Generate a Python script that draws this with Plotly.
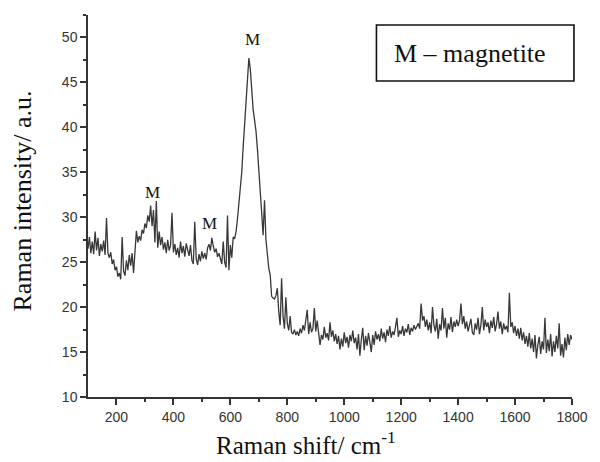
import plotly.graph_objects as go

# Raman shift (cm-1), 5 cm-1 steps from 100 to 1800
shift = list(range(100, 1801, 5))

intensity = [
    # 100-195
    26.5, 27.8, 26.0, 27.3, 25.9, 28.4, 26.3, 27.7, 25.7, 27.0,
    26.2, 27.4, 25.8, 29.9, 26.0, 25.5, 26.1, 24.8, 25.3, 24.1,
    # 200-295
    24.5, 23.4, 23.8, 23.1, 27.8, 24.0, 23.5, 25.2, 24.1, 25.8,
    24.6, 26.0, 23.8, 26.3, 28.5, 27.2, 27.9, 27.4, 28.6, 28.2,
    # 300-395
    29.3, 28.8, 30.2, 29.5, 31.3, 29.0, 30.8, 27.2, 31.8, 26.6,
    28.4, 26.9, 27.8, 26.4, 27.2, 26.0, 27.5, 26.3, 26.9, 30.5,
    # 400-495
    26.1, 27.0, 25.8, 26.6, 25.5, 27.3, 26.0, 26.8, 25.6, 27.1,
    26.4, 25.7, 26.9, 25.2, 24.8, 29.5, 25.4, 24.7, 25.9, 25.1,
    # 500-595
    26.2, 25.4, 26.0, 25.3, 26.6, 27.0, 26.3, 27.7, 26.8, 26.1,
    26.5, 25.6, 26.0, 25.2, 24.8, 27.3, 25.0, 24.4, 30.2, 24.1,
    # 600-695
    26.9, 25.5, 27.8, 27.6, 28.4, 29.8, 31.5, 32.6, 35.0, 37.8,
    40.5, 43.6, 46.2, 47.7, 46.5, 43.8, 42.0, 40.8, 39.6, 37.6,
    # 700-795
    35.5, 33.6, 30.5, 28.0, 31.9, 27.5, 26.0, 24.3, 23.6, 21.2,
    21.0, 20.9, 21.3, 22.1, 19.5, 18.0, 23.2, 19.0, 17.6, 21.1,
    # 800-895
    18.2, 17.4, 19.0, 17.2, 17.0, 17.5, 16.9, 17.3, 16.8, 17.6,
    17.1, 18.0, 17.4, 18.6, 19.7, 17.0, 18.3, 17.2, 17.6, 19.9,
    # 900-995
    17.3, 18.5, 16.8, 15.8, 16.9, 16.4, 17.8, 16.6, 17.1, 16.3,
    18.3, 16.7, 17.4, 16.2, 17.0, 15.9, 16.8, 15.3, 16.5, 15.6,
    # 1000-1095
    17.2, 16.0, 16.7, 15.5, 16.9, 16.2, 17.4, 16.0, 16.6, 15.3,
    17.0, 14.6, 16.4, 17.7, 15.2, 16.8, 15.7, 17.1, 16.1, 15.0,
    # 1100-1195
    16.9, 15.8, 17.3, 16.4, 17.0, 16.2, 17.6, 16.5, 17.2, 16.1,
    17.5, 16.8, 17.9, 16.6, 17.3, 16.9, 17.8, 18.8, 16.7, 17.4,
    # 1200-1295
    17.0, 17.9, 16.8, 17.6, 17.2, 18.1, 16.9, 17.7, 17.3, 18.0,
    17.5, 17.8, 18.2, 17.6, 20.4, 18.5, 19.0, 17.8, 18.6, 17.4,
    # 1300-1395
    18.3, 17.1, 20.0, 18.0, 17.3, 18.7, 16.5, 18.1, 17.4, 19.9,
    17.6, 18.8, 16.6, 18.2, 17.5, 18.9, 17.2, 18.4, 17.8, 18.6,
    # 1400-1495
    17.9, 18.5, 20.4, 18.1, 19.0, 17.6, 18.4, 17.3, 17.9, 18.7,
    17.2, 16.9, 18.2, 17.5, 18.8, 17.0, 18.0, 20.0, 17.4, 18.6,
    # 1500-1595
    17.8, 18.3, 17.1, 18.5, 17.7, 18.9, 17.3, 18.1, 19.5, 17.6,
    18.4, 17.0, 18.2, 17.5, 17.9, 17.2, 21.6, 17.8, 18.3, 17.1,
    # 1600-1695
    17.9, 16.8, 17.6, 16.5, 17.7, 16.3, 17.2, 15.9, 16.8, 15.6,
    17.1, 15.4, 16.5, 15.0, 16.9, 14.3, 15.8, 16.7, 14.8, 16.2,
    # 1700-1800
    15.3, 18.8, 14.9, 16.4, 15.1, 17.0, 14.5, 16.2, 15.0, 16.8,
    15.4, 18.2, 14.6, 15.9, 14.4, 16.6, 15.2, 17.0, 15.8, 16.9,
    16.4,
]

# peak labels
peak_x = [326, 525, 679]
peak_y = [32.8, 29.3, 49.8]
peak_text = ["M", "M", "M"]

x_ticks = [200, 400, 600, 800, 1000, 1200, 1400, 1600, 1800]
y_ticks = [10, 15, 20, 25, 30, 35, 40, 45, 50]

SERIF = "Liberation Serif, Times New Roman, serif"
SANS = "Liberation Sans, Arial, sans-serif"

fig = go.Figure()
fig.add_trace(go.Scatter(
    x=shift, y=intensity, mode="lines",
    line=dict(color="#383838", width=1.3),
    showlegend=False, hoverinfo="skip",
))

for px, py, t in zip(peak_x, peak_y, peak_text):
    fig.add_annotation(x=px, y=py, text=t, showarrow=False,
                       xanchor="center", yanchor="middle",
                       font=dict(family=SERIF, size=17, color="#111"))

axis_common = dict(
    showline=True, linecolor="#333", linewidth=1.5,
    ticks="outside", tickcolor="#333", tickwidth=1.5, ticklen=6,
    showgrid=False, zeroline=False, mirror=False,
    tickfont=dict(family=SANS, size=14, color="#333"),
)

fig.update_layout(
    width=600, height=462,
    margin=dict(l=88, r=17, t=15, b=65),
    paper_bgcolor="white", plot_bgcolor="white",
    xaxis=dict(range=[100, 1800], tickvals=x_ticks,
               minor=dict(tickvals=[300, 500, 700, 900, 1100, 1300, 1500, 1700],
                          ticks="outside", ticklen=3.5, tickcolor="#333", tickwidth=1.5),
               **axis_common),
    yaxis=dict(range=[10, 52.5], tickvals=y_ticks,
               minor=dict(tickvals=[12.5, 17.5, 22.5, 27.5, 32.5, 37.5, 42.5, 47.5, 52.5],
                          ticks="outside", ticklen=3.5, tickcolor="#333", tickwidth=1.5),
               **axis_common),
)

# axis titles
fig.add_annotation(xref="paper", yref="paper", x=(311 - 88) / 495, y=-(443 - 397) / 382,
                   text="Raman shift/ cm<sup>-1</sup>", showarrow=False,
                   xanchor="center", yanchor="middle",
                   font=dict(family=SERIF, size=25, color="#111"))
fig.add_annotation(xref="paper", yref="paper", x=-(88 - 21) / 495, y=(397 - 201) / 382,
                   text="Raman intensity/ a.u.", showarrow=False, textangle=-90,
                   xanchor="center", yanchor="middle",
                   font=dict(family=SERIF, size=26, color="#111"))

# legend box
fig.add_shape(type="rect", xref="paper", yref="paper",
              x0=(383 - 88) / 495, x1=(585 - 88) / 495,
              y0=(397 - 81) / 382, y1=(397 - 25) / 382,
              line=dict(color="#111", width=1.6), fillcolor="white")
fig.add_annotation(xref="paper", yref="paper", x=(479 - 88) / 495, y=(397 - 53) / 382,
                   text="M – magnetite", showarrow=False,
                   xanchor="center", yanchor="middle",
                   font=dict(family=SERIF, size=26, color="#111"))

fig.write_html("out.html")
